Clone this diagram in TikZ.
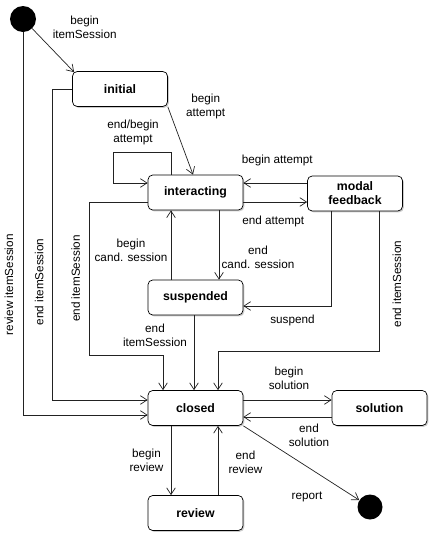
\documentclass[tikz,border=0pt]{standalone}
\usepackage{fontspec}
\setmainfont{Liberation Sans}
\usetikzlibrary{arrows.meta, positioning, shadows, calc}
\definecolor{qtiline}{HTML}{222222}
\definecolor{qtishade}{HTML}{9A9A9A}
\tikzset{
  state/.style={rectangle, rounded corners=4pt, draw=black, line width=0.6pt, minimum width=28.5mm,
    minimum height=10.5mm, font=\fontsize{10.5}{12}\selectfont\bfseries, align=center, fill=white,
    drop shadow={shadow xshift=0.4mm, shadow yshift=-0.4mm, fill=qtishade, opacity=0.5}},
  pseudo/.style={circle, fill=black, minimum size=7.8mm, inner sep=0pt},
  trans/.style={-{Straight Barb[length=2mm, width=2.6mm]}, line width=0.6pt, qtiline},
  lbl/.style={font=\fontsize{10}{12}\selectfont, align=center, inner sep=0pt, text=black},
  vlbl/.style={lbl, rotate=90},
}

\begin{document}
\begin{tikzpicture}[x=0.3mm, y=-0.3mm]
  \useasboundingbox (0,0) rectangle (434,537);
  \node[pseudo] (start) at (23,19) {};
  \node[state] (initial) at (120,89) {initial};
  \node[state] (interacting) at (195.5,192.5) {interacting};
  \node[state] (modal) at (355,193.5) {modal\\feedback};
  \node[state] (suspended) at (195.5,297.5) {suspended};
  \node[state] (closed) at (195.5,408) {closed};
  \node[state] (solution) at (379.5,408) {solution};
  \node[state] (review) at (195.5,513) {review};
  \node[pseudo, minimum size=7.5mm] (final) at (370,507) {};

  \draw[trans] (start) -- node[lbl, xshift=9.45mm, yshift=6.9mm] (lbsess) {begin\\itemSession} ([shift={(2,1)}]initial.north west);
  \draw[trans] (start.south) |- node[xshift=-4.2mm, vlbl, pos=0.33] (lrvsess) {review itemSession} ([shift={(0,7)}]closed.west);
  \draw[trans] (initial.west) -- ++(-20,0) |- node[xshift=-3.9mm, vlbl, pos=0.31] (lesess1) {end itemSession} ([shift={(0,-8)}]closed.west);
  \draw[trans] ([shift={(0,9.5)}]interacting.west) -| node[xshift=-4.2mm, vlbl, pos=0.75] (lesess2) {end itemSession} ++(-58,153) -| ([shift={(-32.5,0)}]closed.north);
  \draw[trans] (initial.south east) -- node[lbl, pos=0.1, xshift=10.6mm, yshift=2.2mm] (lbatt1) {begin\\attempt} ([shift={(-2.5,0)}]interacting.north);
  \draw[trans] ([shift={(-24.5,0)}]interacting.north) |- node[lbl, pos=0.75, xshift=-2.7mm, yshift=6mm] (lloop) {end/begin\\attempt} ++(-58,-22) |- ([shift={(0,-9.5)}]interacting.west);
  \draw[trans] ([shift={(0,-10.5)}]modal.west) -- node[lbl, xshift=0.6mm, yshift=6.9mm] (lbatt2) {begin attempt} ([shift={(0,-9.5)}]interacting.east);
  \draw[trans] ([shift={(0,9.5)}]interacting.east) -- node[lbl, xshift=-0.6mm, yshift=-5.8mm] (leatt) {end attempt} ([shift={(0,8.5)}]modal.west);
  \draw[trans] ([shift={(23.5,0)}]interacting.south) -- node[lbl, xshift=11.7mm, yshift=-3.6mm] (lecand) {end\\cand. session} ([shift={(23.5,0)}]suspended.north);
  \draw[trans] ([shift={(-24.5,0)}]suspended.north) -- node[lbl, xshift=-12mm, yshift=-1.65mm] (lbcand) {begin\\cand. session} ([shift={(-24.5,0)}]interacting.south);
  \draw[trans] ([shift={(-24,0)}]modal.south) |- node[lbl, pos=0.72, yshift=-4.2mm] (lsusp) {suspend} ([shift={(0,8.5)}]suspended.east);
  \draw[trans] ([shift={(24,0)}]modal.south) |- node[xshift=5.4mm, vlbl, pos=0.26] (lesess3) {end itemSession} ([shift={(22.5,-39)}]closed.north) -- ([shift={(22.5,0)}]closed.north);
  \draw[trans] ([shift={(-1.5,0)}]suspended.south) -- node[lbl, xshift=-11.7mm, yshift=5.25mm] (lesess4) {end\\itemSession} ([shift={(-1.5,0)}]closed.north);
  \draw[trans] ([shift={(0,-8)}]closed.east) -- node[lbl, xshift=0.45mm, yshift=6.6mm] (lbsol) {begin\\solution} ([shift={(0,-8)}]solution.west);
  \draw[trans] ([shift={(0,9)}]solution.west) -- node[lbl, xshift=6.45mm, yshift=-5.4mm] (lesol) {end\\solution} ([shift={(0,9)}]closed.east);
  \draw[trans] ([shift={(-24.5,0)}]closed.south) -- node[lbl, xshift=-7.35mm] (lbrev) {begin\\review} ([shift={(-24.5,0)}]review.north);
  \draw[trans] ([shift={(22.5,0)}]review.north) -- node[lbl, xshift=8.25mm, yshift=-0.6mm] (lerev) {end\\review} ([shift={(22.5,0)}]closed.south);
  \draw[trans] (closed.south east) -- node[lbl, xshift=1.7mm, yshift=-10.2mm] (lreport) {report} (final);
\end{tikzpicture}
\end{document}
